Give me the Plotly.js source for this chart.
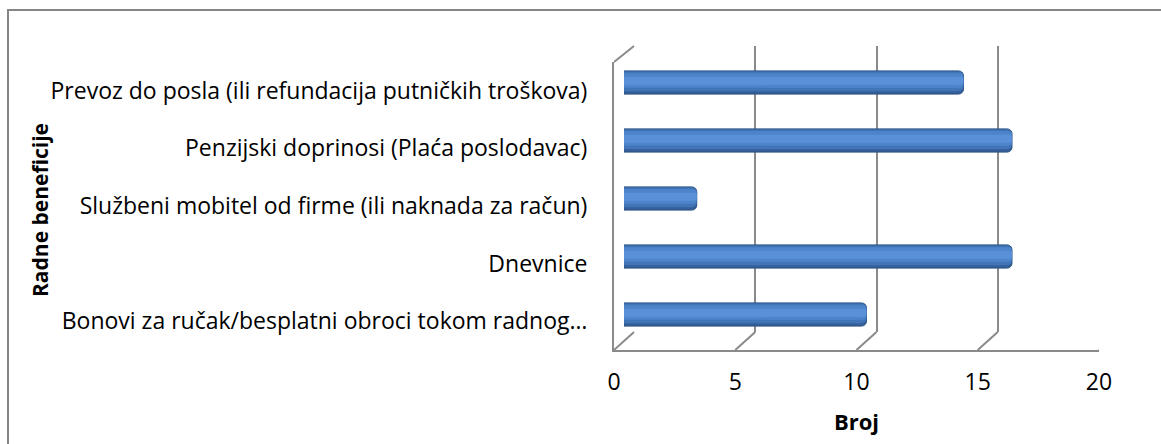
<!DOCTYPE html>
<html>
<head>
<meta charset="utf-8">
<script src="https://cdn.plot.ly/plotly-3.0.1.min.js"></script>
<style>
  html, body { margin: 0; padding: 0; background: #ffffff; overflow: hidden; }
  #frame { position: absolute; left: 7px; top: 9px; width: 1200px; height: 500px; border: 2px solid #868686; }
  #chart { position: absolute; left: 0; top: 0; width: 1161px; height: 444px; }
</style>
</head>
<body>
<div id="frame"></div>
<div id="chart"></div>
<script>
// ---- data ----
const categories = [
  "Bonovi za ručak/besplatni obroci tokom radnog…",
  "Dnevnice",
  "Službeni mobitel od firme (ili naknada za račun)",
  "Penzijski doprinosi (Plaća poslodavac)",
  "Prevoz do posla (ili refundacija putničkih troškova)"
];
const counts = [10, 16, 3, 16, 14];
const xTicks = [0, 5, 10, 15, 20];
const xTickLabels = ["0", "5", "10", "15", "20"];
const xTitle = "Broj";
const yTitle = "Radne beneficije";

// ---- layout geometry (pixels) ----
const W = 1161, H = 444;
const plotL = 614, plotR = 1119, plotT = 46, plotB = 350;
const pw = plotR - plotL, ph = plotB - plotT;
const depthX = 20;          // back wall offset
const floorDY = 18;         // floor depth (vertical)
const wallTop = 62;         // top of front-left wall edge
const FONT = "Open Sans, Noto Sans, sans-serif";
const grid = "#8A8A8A";

const frontXEnd = (pw - depthX) / pw;
const midX0 = (depthX / 2) / pw;
const midX1 = (pw - depthX / 2) / pw;

function px2paperX(px) { return (px - plotL) / pw; }
function px2paperY(py) { return (plotB - py) / ph; }

const traces = [
  // front axis (category labels)
  { type: "scatter", mode: "markers", x: counts, y: categories, xaxis: "x", yaxis: "y",
    marker: { opacity: 0 }, hoverinfo: "skip", showlegend: false },
  // back wall subplot
  { type: "scatter", mode: "markers", x: counts, y: counts.map(() => 0), xaxis: "x2", yaxis: "y2",
    marker: { opacity: 0 }, hoverinfo: "skip", showlegend: false },
  // bars (cylinder shading by layering)
  { type: "bar", orientation: "h", x: counts, y: categories, xaxis: "x3", yaxis: "y3",
    width: 0.40, marker: { color: "#345F98", line: { color: "#2C5385", width: 1 }, cornerradius: 5 },
    hoverinfo: "x+y", showlegend: false },
  { type: "bar", orientation: "h", x: counts, y: categories, xaxis: "x3", yaxis: "y3",
    width: 0.34, offset: -0.15, marker: { color: "#4275B8", line: { width: 0 }, cornerradius: 5 },
    hoverinfo: "skip", showlegend: false },
  { type: "bar", orientation: "h", x: counts, y: categories, xaxis: "x3", yaxis: "y3",
    width: 0.25, offset: -0.09, marker: { color: "#4D84CA", line: { width: 0 }, cornerradius: 4 },
    hoverinfo: "skip", showlegend: false },
  { type: "bar", orientation: "h", x: counts, y: categories, xaxis: "x3", yaxis: "y3",
    width: 0.14, offset: -0.04, marker: { color: "#5990D7", line: { width: 0 }, cornerradius: 3 },
    hoverinfo: "skip", showlegend: false }
];

const shapes = [];
// floor diagonals at each tick
xTicks.forEach(t => {
  shapes.push({ type: "line", xref: "x", yref: "y domain",
    xsizemode: "pixel", xanchor: t, x0: 0, x1: depthX,
    ysizemode: "pixel", yanchor: 0, y0: 0, y1: floorDY,
    line: { color: grid, width: 2 } });
});
// left wall top diagonal
shapes.push({ type: "line", xref: "x", yref: "y domain",
  xsizemode: "pixel", xanchor: 0, x0: 0, x1: depthX,
  ysizemode: "pixel", yanchor: 1, y0: 0, y1: wallTop - plotT,
  line: { color: grid, width: 2 } });

const layout = {
  width: W, height: H,
  margin: { l: plotL, r: W - plotR, t: plotT, b: H - plotB, pad: 0 },
  paper_bgcolor: "rgba(0,0,0,0)", plot_bgcolor: "rgba(0,0,0,0)",
  font: { family: FONT, size: 23, color: "#000000" },
  barmode: "overlay",
  showlegend: false,
  xaxis: { domain: [0, frontXEnd], range: [0, 20], anchor: "y",
    tickvals: xTicks, ticktext: xTickLabels, ticks: "", ticklabelstandoff: 10,
    showgrid: false, zeroline: false, showline: true, linecolor: grid, linewidth: 2,
    tickfont: { family: FONT, size: 23, color: "#000" },
    title: { text: xTitle, font: { family: FONT, size: 22, color: "#000", weight: "bold" }, standoff: 19 },
    fixedrange: true },
  yaxis: { domain: [0, (plotB - wallTop) / ph], anchor: "x", type: "category",
    categoryorder: "array", categoryarray: categories, range: [-0.5, 4.5],
    ticks: "", ticklabelstandoff: 20, showgrid: false, zeroline: false,
    showline: true, linecolor: grid, linewidth: 2,
    tickfont: { family: FONT, size: 23, color: "#000" }, fixedrange: true },
  xaxis2: { domain: [depthX / pw, 1], range: [0, 20], anchor: "y2",
    tickvals: xTicks, showticklabels: false, ticks: "",
    showgrid: true, gridcolor: grid, gridwidth: 2, zeroline: false, showline: false, fixedrange: true },
  yaxis2: { domain: [floorDY / ph, 1], anchor: "x2", range: [0, 1],
    visible: false, showgrid: false, zeroline: false, fixedrange: true },
  xaxis3: { domain: [midX0, midX1], range: [0, 20], anchor: "y3",
    visible: false, showgrid: false, zeroline: false, fixedrange: true },
  yaxis3: { domain: [(plotB - 343.5) / ph, (plotB - 53.5) / ph], anchor: "x3", type: "category",
    categoryorder: "array", categoryarray: categories, range: [-0.5, 4.5],
    visible: false, showgrid: false, fixedrange: true },
  shapes: shapes,
  annotations: [{
    text: yTitle, textangle: -90, showarrow: false,
    xref: "paper", yref: "paper", x: px2paperX(40), y: px2paperY(210),
    xanchor: "center", yanchor: "middle",
    font: { family: FONT, size: 21, color: "#000", weight: "bold" }
  }]
};

Plotly.newPlot("chart", traces, layout, { displayModeBar: false, staticPlot: true });
</script>
</body>
</html>
